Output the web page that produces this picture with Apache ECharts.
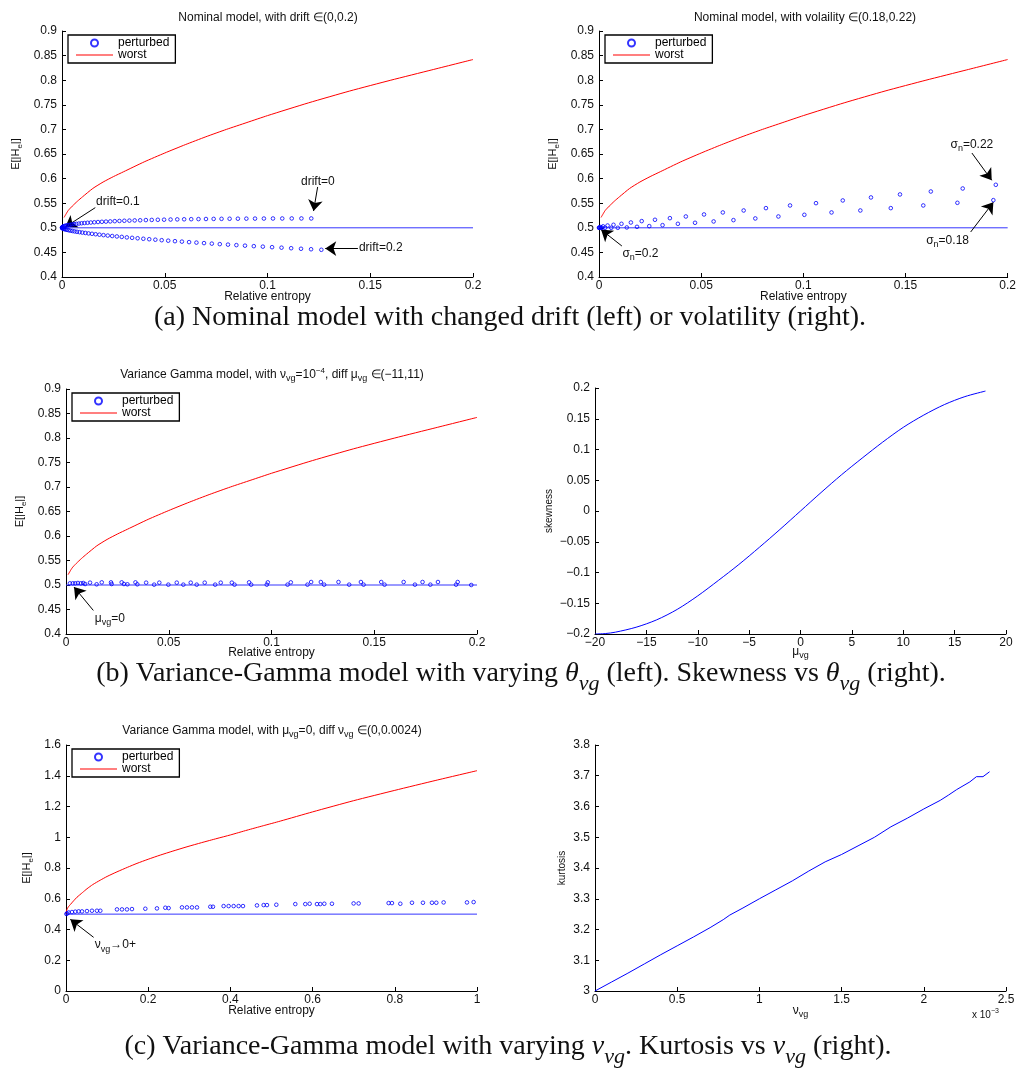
<!DOCTYPE html>
<html><head><meta charset="utf-8">
<script src="https://cdn.jsdelivr.net/npm/echarts@6/dist/echarts.min.js"></script>
<style>html,body{margin:0;padding:0;background:#fff}#c{width:1019px;height:1073px}</style>
</head><body><div id="c"></div>
<script>
// ---------- data ----------
const worstNomX = [0.001,0.003,0.005,0.0075,0.01,0.015,0.02,0.025,0.03,0.04,0.05,0.06,0.07,0.08,0.09,0.1,0.12,0.14,0.16,0.18,0.2];
const worstNomY = [0.521,0.535,0.544,0.554,0.563,0.58,0.593,0.604,0.614,0.634,0.652,0.669,0.685,0.7,0.714,0.728,0.754,0.778,0.8,0.821,0.842];

const driftUpperX = [0.00005,0.00019,0.00044,0.00078,0.00121,0.00175,0.00238,0.00311,0.00393,0.00485,0.00587,0.00699,0.0082,0.00951,0.01092,0.01242,0.01402,0.01572,0.01752,0.01941,0.0214,0.02348,0.02567,0.02795,0.03033,0.0328,0.03537,0.03804,0.04081,0.04367,0.04663,0.04968,0.05284,0.05609,0.05944,0.06288,0.06642,0.07006,0.0738,0.07763,0.08156,0.08559,0.08971,0.09393,0.09825,0.10266,0.10718,0.11179,0.1165,0.1213];
const driftUpperY = [0.5008,0.5015,0.5022,0.5029,0.5036,0.5043,0.505,0.5056,0.5062,0.5068,0.5074,0.508,0.5086,0.5092,0.5097,0.5102,0.5107,0.5112,0.5117,0.5122,0.5126,0.513,0.5135,0.5139,0.5143,0.5146,0.515,0.5153,0.5157,0.516,0.5163,0.5165,0.5168,0.5171,0.5173,0.5175,0.5177,0.5179,0.5181,0.5182,0.5184,0.5185,0.5186,0.5187,0.5188,0.5189,0.5189,0.519,0.519,0.519];
const driftLowerX = [0.00005,0.0002,0.00045,0.00081,0.00126,0.00182,0.00247,0.00323,0.00409,0.00505,0.00611,0.00727,0.00853,0.00989,0.01136,0.01292,0.01459,0.01636,0.01822,0.02019,0.02226,0.02443,0.0267,0.02908,0.03155,0.03412,0.0368,0.03958,0.04245,0.04543,0.04851,0.05169,0.05497,0.05835,0.06184,0.06542,0.06911,0.0729,0.07678,0.08077,0.08486,0.08905,0.09334,0.09773,0.10222,0.10682,0.11151,0.11631,0.1212,0.1262];
const driftLowerY = [0.4996,0.4991,0.4985,0.4978,0.4972,0.4965,0.4958,0.495,0.4943,0.4935,0.4927,0.4919,0.4911,0.4903,0.4895,0.4886,0.4878,0.4869,0.486,0.4851,0.4842,0.4833,0.4824,0.4815,0.4805,0.4796,0.4787,0.4777,0.4768,0.4758,0.4748,0.4738,0.4728,0.4719,0.4709,0.4699,0.4689,0.4678,0.4668,0.4658,0.4648,0.4637,0.4627,0.4617,0.4606,0.4596,0.4585,0.4574,0.4564,0.4553];

const volUpperX = [0.0002,0.0008,0.002,0.0042,0.0071,0.011,0.0156,0.0209,0.0274,0.0347,0.0425,0.0514,0.0606,0.0708,0.0817,0.0935,0.1062,0.1193,0.1331,0.1473,0.1624,0.178,0.1942];
const volUpperY = [0.5006,0.5015,0.503,0.5047,0.5061,0.5081,0.5108,0.5136,0.5163,0.5196,0.523,0.5271,0.5312,0.5352,0.54,0.5454,0.5501,0.5556,0.5617,0.5678,0.5738,0.5799,0.5874];
const volLowerX = [0.0001,0.0006,0.0015,0.003,0.006,0.0092,0.0136,0.0186,0.0246,0.0311,0.0386,0.047,0.0561,0.0658,0.0765,0.0878,0.1005,0.1138,0.1279,0.1428,0.1587,0.1754,0.193];
const volLowerY = [0.5,0.5,0.5,0.5,0.5,0.5,0.5007,0.502,0.5034,0.5054,0.5081,0.5102,0.5129,0.5156,0.519,0.523,0.5264,0.5312,0.5352,0.54,0.5454,0.5508,0.5562];

const vgMuX = [0.0019,0.0033,0.0045,0.0058,0.0072,0.0084,0.0093,0.0117,0.0149,0.0174,0.0219,0.0222,0.0271,0.0282,0.0299,0.0338,0.0347,0.039,0.0429,0.0454,0.0498,0.0539,0.0571,0.0607,0.0636,0.0675,0.0726,0.0753,0.0807,0.082,0.0891,0.0901,0.0977,0.0982,0.1078,0.1094,0.1175,0.1193,0.124,0.1256,0.1326,0.1378,0.1435,0.1448,0.1534,0.155,0.1643,0.1698,0.1735,0.1773,0.181,0.1898,0.1906,0.1972];
const vgMuY = [0.5034,0.5034,0.5034,0.5041,0.5034,0.5041,0.502,0.5048,0.5014,0.5054,0.5054,0.502,0.5054,0.502,0.5014,0.5054,0.5014,0.5048,0.5007,0.5048,0.5007,0.5048,0.5007,0.5048,0.5007,0.5048,0.5007,0.5048,0.5048,0.5007,0.5054,0.5007,0.5007,0.5054,0.5007,0.5054,0.5007,0.5061,0.5061,0.5007,0.5061,0.5007,0.5061,0.5007,0.5061,0.5007,0.5061,0.5007,0.5061,0.5007,0.5061,0.5007,0.5061,0.5];

const worstVgX = [0,0.001,0.003,0.006,0.0105,0.018,0.0268,0.04,0.0511,0.065,0.0835,0.1,0.124,0.15,0.1727,0.2,0.2294,0.26,0.2944,0.33,0.3674,0.4,0.4404,0.48,0.5214,0.6,0.7,0.8,0.9,1.0];
const worstVgY = [0.503,0.52,0.535,0.548,0.562,0.585,0.61,0.64,0.665,0.692,0.721,0.745,0.775,0.805,0.83,0.857,0.884,0.91,0.938,0.965,0.992,1.015,1.046,1.075,1.105,1.165,1.238,1.305,1.37,1.433];
const vgNuX = [0.001,0.003,0.0064,0.0145,0.0226,0.0307,0.0389,0.051,0.0632,0.0753,0.0835,0.124,0.1362,0.1483,0.1605,0.193,0.2213,0.2416,0.2497,0.2822,0.2943,0.3065,0.3187,0.3511,0.3576,0.3835,0.3957,0.4079,0.42,0.4306,0.4646,0.4809,0.489,0.5117,0.5579,0.5822,0.5928,0.6106,0.6187,0.6285,0.6471,0.6998,0.712,0.785,0.7931,0.8134,0.8418,0.8685,0.8904,0.901,0.9188,0.9756,0.9918];
const vgNuY = [0.501,0.505,0.511,0.5135,0.516,0.518,0.5177,0.5198,0.522,0.522,0.522,0.5307,0.5307,0.5307,0.5328,0.535,0.5372,0.5415,0.5393,0.5437,0.5437,0.5437,0.5437,0.548,0.548,0.5523,0.5523,0.5523,0.5523,0.5523,0.5567,0.5588,0.5588,0.561,0.5653,0.5653,0.5675,0.5653,0.5653,0.5675,0.5675,0.5696,0.5696,0.5718,0.5718,0.5675,0.574,0.574,0.574,0.574,0.5761,0.5761,0.5783];

const skewMu = [-20,-19,-18,-16,-14,-12,-10,-8,-6,-4,-2,0,2,4,6,8,10,12,14,16,18];
const skewVal = [-0.2,-0.1993,-0.197,-0.189,-0.177,-0.16,-0.138,-0.113,-0.087,-0.059,-0.03,0,0.03,0.059,0.086,0.112,0.136,0.156,0.173,0.186,0.195];

const kurtNu = [0,0.0001,0.0002,0.0003,0.0004,0.0005,0.0006,0.0007,0.00078,0.00082,0.0009,0.001,0.0011,0.0012,0.0013,0.0014,0.0015,0.0016,0.0017,0.0018,0.0019,0.002,0.0021,0.00215,0.0022,0.00228,0.00232,0.00236,0.0024];
const kurtVal = [3.0,3.029,3.058,3.088,3.118,3.147,3.176,3.206,3.232,3.247,3.27,3.3,3.329,3.358,3.39,3.42,3.444,3.472,3.5,3.534,3.562,3.592,3.62,3.637,3.655,3.68,3.697,3.697,3.713];

const nominalLevel = [0.5, 0.5];
const hlineAX = [0, 0.2];
const hlineCX = [0, 1];

// ---------- rendering ----------
const SANS = 'Liberation Sans, Arial, Helvetica, sans-serif';
const SERIF = 'Liberation Serif, Times New Roman, serif';
const TXT = '#111';
function zip(xs, ys){ return xs.map((x,i)=>[x, ys[i]]); }
function rich(fs, family, italic, subScale){
  const st = italic ? 'italic' : 'normal';
  const ss = subScale || 0.75;
  return {
    n: {fontSize: fs, fontFamily: family, color: TXT, verticalAlign:'middle', lineHeight: fs+8},
    m: {fontSize: fs, fontFamily: family, color: TXT, fontStyle:'italic', verticalAlign:'middle', lineHeight: fs+8},
    s: {fontSize: Math.round(fs*ss), fontFamily: family, color: TXT, fontStyle: st, padding:[Math.round(fs*0.7),0,0,0], verticalAlign:'middle'},
    p: {fontSize: Math.round(fs*0.7), fontFamily: family, color: TXT, padding:[0,0,Math.round(fs*0.75),0], verticalAlign:'middle'}
  };
}
const minus = v => { const r = Number(v.toFixed(6)); return r < 0 ? '\u2212' + String(-r) : String(r); };

const grids = [
  {left:62, top:31, width:411, height:246},
  {left:599, top:31, width:411, height:246},
  {left:66, top:389, width:411, height:245},
  {left:595, top:388, width:411, height:246},
  {left:66, top:745, width:411, height:246},
  {left:595, top:745, width:411, height:246}
];

function axisBase(margin){
  return {
    type:'value', nameLocation:'middle', nameMoveOverlap:false,
    axisLine:{show:true, onZero:false, lineStyle:{color:'#000', width:1}},
    axisTick:{show:true, inside:true, length:4, lineStyle:{color:'#000'}},
    axisLabel:{color:TXT, fontSize:12, fontFamily:SANS, margin, showMinLabel:true, showMaxLabel:true},
    splitLine:{show:false}
  };
}
function xAx(gi, min, max, interval, name, gap, fmt){
  const a = axisBase(3);
  Object.assign(a, {gridIndex:gi, min, max, interval, name, nameGap:gap,
    nameTextStyle:{fontSize:12, fontFamily:SANS, color:TXT, rich: rich(12, SANS)}});
  if (fmt) a.axisLabel.formatter = fmt;
  return a;
}
function yAx(gi, min, max, interval, name, gap, fs, fmt){
  const a = axisBase(5);
  Object.assign(a, {gridIndex:gi, min, max, interval, name, nameGap:gap, nameRotate:90,
    nameTextStyle:{fontSize:fs, fontFamily:SANS, color:TXT, rich: rich(fs, SANS)}});
  if (fmt) a.axisLabel.formatter = fmt;
  return a;
}
const EH = '{n|E[|H}{s|e}{n||]}';
const RE = '{n|Relative entropy}';
const xAxes = [
  xAx(0, 0, 0.2, 0.05, RE, 10),
  xAx(1, 0, 0.2, 0.05, RE, 10),
  xAx(2, 0, 0.2, 0.05, RE, 9),
  xAx(3, -20, 20, 5, '{n|\u03bc}{s|vg}', 8, minus),
  xAx(4, 0, 1, 0.2, RE, 10),
  xAx(5, 0, 0.0025, 0.0005, '{n|\u03bd}{s|vg}', 10, v => String(Math.round(v*1e4)/10))
];
const yAxes = [
  yAx(0, 0.4, 0.9, 0.05, EH, 37, 11),
  yAx(1, 0.4, 0.9, 0.05, EH, 37, 11),
  yAx(2, 0.4, 0.9, 0.05, EH, 37, 11),
  yAx(3, -0.2, 0.2, 0.05, 'skewness', 41, 10, minus),
  yAx(4, 0, 1.6, 0.2, EH, 30, 11),
  yAx(5, 3, 3.8, 0.1, 'kurtosis', 28, 10)
];

const BLUE = '#0000ff', RED = '#ff0000', HL = '#3535ff';
function scatterS(i, data){
  return {type:'scatter', name:'perturbed', xAxisIndex:i, yAxisIndex:i, data, symbol:'circle', symbolSize:3.6,
    itemStyle:{color:'rgba(0,0,0,0)', borderColor:BLUE, borderWidth:1}, z:5};
}
function worstS(i, data){
  return {type:'line', name:'worst', xAxisIndex:i, yAxisIndex:i, data, symbol:'none', smooth:0.2,
    lineStyle:{color:RED, width:1}, itemStyle:{color:RED}, z:3};
}
function annot(texts, arrows){
  return {
    markPoint:{symbol:'circle', symbolSize:1, itemStyle:{color:'rgba(0,0,0,0)'}, silent:true,
      label:{show:true, position:'inside', color:TXT, fontSize:12, fontFamily:SANS, rich: rich(12, SANS)},
      data: texts.map(t => ({coord:[t[1], t[2]], value:0, label:{formatter: () => t[0]}}))},
    markLine:{silent:true, symbol:['none','arrow'], symbolSize:11, label:{show:false},
      lineStyle:{color:'#000', width:1, type:'solid'}, itemStyle:{color:'#000'}, emphasis:{disabled:true},
      data: arrows.map(a => [{coord:[a[0], a[1]]}, {coord:[a[2], a[3]]}])}
  };
}
function hlineS(i, xs, extra){
  return Object.assign({type:'line', name:'nominal', xAxisIndex:i, yAxisIndex:i, data: zip(xs, nominalLevel),
    symbol:'none', lineStyle:{color:HL, width:1}, z:2}, extra || {});
}

const series = [
  hlineS(0, hlineAX, annot(
    [['drift=0.1', 0.0272, 0.5524], ['drift=0', 0.1245, 0.5931], ['drift=0.2', 0.1551, 0.459]],
    [[0.0162, 0.541, 0.0016, 0.5016], [0.1244, 0.583, 0.1224, 0.5341], [0.144, 0.4577, 0.1281, 0.4577]])),
  worstS(0, zip(worstNomX, worstNomY)),
  scatterS(0, [[0, 0.5]].concat(zip(driftUpperX, driftUpperY), zip(driftLowerX, driftLowerY))),

  hlineS(1, hlineAX, annot(
    [['{n|\u03c3}{s|n}{n|=0.22}', 0.1825, 0.6697], ['{n|\u03c3}{s|n}{n|=0.18}', 0.1706, 0.4736], ['{n|\u03c3}{s|n}{n|=0.2}', 0.0203, 0.4482]],
    [[0.1825, 0.652, 0.1922, 0.5966], [0.1819, 0.4915, 0.193, 0.5518], [0.0112, 0.463, 0.001, 0.4963]])),
  worstS(1, zip(worstNomX, worstNomY)),
  scatterS(1, [[0, 0.5]].concat(zip(volUpperX, volUpperY), zip(volLowerX, volLowerY))),

  hlineS(2, hlineAX, annot(
    [['{n|\u03bc}{s|vg}{n|=0}', 0.0213, 0.4312]],
    [[0.0133, 0.4481, 0.0039, 0.4958]])),
  worstS(2, zip(worstNomX, worstNomY)),
  scatterS(2, zip(vgMuX, vgMuY)),

  {type:'line', name:'skew', xAxisIndex:3, yAxisIndex:3, data: zip(skewMu, skewVal), symbol:'none', smooth:0.3,
    lineStyle:{color:BLUE, width:1}},

  hlineS(4, hlineCX, annot(
    [['{n|\u03bd}{s|vg}{n|\u21920+}', 0.12, 0.299]],
    [[0.0672, 0.349, 0.0105, 0.466]])),
  worstS(4, zip(worstVgX, worstVgY)),
  scatterS(4, zip(vgNuX, vgNuY)),

  {type:'line', name:'kurt', xAxisIndex:5, yAxisIndex:5, data: zip(kurtNu, kurtVal), symbol:'none',
    lineStyle:{color:BLUE, width:1}}
];

function legendAt(left, top){
  return {left, top, orient:'vertical', itemGap:0, itemWidth:37, itemHeight:7, padding:[2,6,2,8],
    borderColor:'#000', borderWidth:1.3, backgroundColor:'#fff', selectedMode:false,
    textStyle:{fontSize:12, fontFamily:SANS, color:'#000'},
    data:[{name:'perturbed'}, {name:'worst', icon:'path://M0,0L37,0L37,1L0,1Z'}]};
}

function ptitle(text, cx, cy){
  return {text, left:cx, top:cy, textAlign:'center', textVerticalAlign:'middle', padding:0,
    textStyle:{fontSize:12, fontFamily:SANS, fontWeight:'normal', color:TXT, rich: rich(12, SANS)}};
}
function caption(text, cx, cy){
  return {text, left:cx, top:cy, textAlign:'center', textVerticalAlign:'middle', padding:0,
    textStyle:{fontSize:28, fontFamily:SERIF, fontWeight:'normal', color:'#000', rich: rich(28, SERIF, true, 0.78)}};
}
const titles = [
  ptitle('{n|Nominal model, with drift \u2208(0,0.2)}', 268, 18),
  ptitle('{n|Nominal model, with volaility \u2208(0.18,0.22)}', 805, 18),
  ptitle('{n|Variance Gamma model, with }{n|\u03bd}{s|vg}{n|=10}{p|\u22124}{n|, diff }{n|\u03bc}{s|vg}{n| \u2208(\u221211,11)}', 272, 375),
  ptitle('{n|Variance Gamma model, with }{n|\u03bc}{s|vg}{n|=0, diff }{n|\u03bd}{s|vg}{n| \u2208(0,0.0024)}', 272, 731),
  caption('{n|(a) Nominal model with changed drift (left) or volatility (right).}', 510, 318),
  caption('{n|(b) Variance-Gamma model with varying }{m|\u03b8}{s|vg}{n| (left). Skewness vs }{m|\u03b8}{s|vg}{n| (right).}', 521, 674),
  caption('{n|(c) Variance-Gamma model with varying }{m|\u03bd}{s|vg}{n|. Kurtosis vs }{m|\u03bd}{s|vg}{n| (right).}', 508, 1047),
  {text:'{n|x 10}{p|\u22123}', left:972, top:1006, padding:0,
    textStyle:{fontSize:10, fontFamily:SANS, fontWeight:'normal', color:TXT, rich: rich(10, SANS)}}
];

const chart = echarts.init(document.getElementById('c'), null, {renderer:'canvas'});
chart.setOption({
  animation:false,
  backgroundColor:'#fff',
  title: titles,
  legend: [legendAt(68,35), legendAt(605,35), legendAt(72,393), legendAt(72,749)],
  grid: grids,
  xAxis: xAxes,
  yAxis: yAxes,
  series
});
</script>
</body></html>
